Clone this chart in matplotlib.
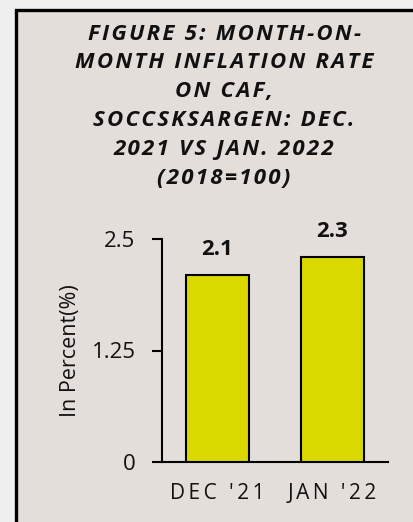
import matplotlib
matplotlib.use("Agg")
import matplotlib.pyplot as plt
from matplotlib.patches import Rectangle

plt.rcParams['font.family'] = ['Open Sans', 'DejaVu Sans']

# data
categories = ["DEC '21", "JAN '22"]
values = [2.1, 2.3]
value_labels = ["2.1", "2.3"]
yticks = [0, 1.25, 2.5]
ytick_labels = ["0", "1.25", "2.5"]
title_lines = ["FIGURE 5: MONTH-ON-", "MONTH INFLATION RATE", "ON CAF,",
               "SOCCSKSARGEN: DEC.", "2021 VS JAN. 2022", "(2018=100)"]

BG = '#e4dedb'
BAR = '#d9d900'
INK = '#111111'
TS = '\u2009'  # thin space, imitates letter spacing
HS = '\u200a'  # hair space, tighter letter spacing for the title


def spaced(s, sep=TS):
    return sep.join(s)


W, H = 413, 522
fig = plt.figure(figsize=(W / 100, H / 100), dpi=100)
fig.patch.set_facecolor('#f0f0f0')

# framed panel (right and bottom edges run off the image)
fig.patches.append(Rectangle((15.5 / W, -0.05), 1.1, 1 - 9.5 / H + 0.05,
                             transform=fig.transFigure, facecolor=BG,
                             edgecolor='black', linewidth=2.4, zorder=-5))

# title
y0 = 34
for i, line in enumerate(title_lines):
    fig.text(224 / W, 1 - (y0 + i * 28.8) / H, spaced(line, HS), ha='center', va='center',
             fontsize=16, fontweight='bold', fontstyle='italic', color=INK)

ax = fig.add_axes([162 / W, 1 - 462 / H, 226 / W, 223 / H])
ax.set_facecolor('none')
x = range(len(categories))
ax.bar(x, values, width=0.55, color=BAR, edgecolor='black', linewidth=1.5, zorder=3)
for xi, v, lab in zip(x, values, value_labels):
    ax.text(xi, v + 0.22, lab, ha='center', va='baseline', fontsize=16,
            fontweight='bold', color=INK)

ax.set_xlim(-0.483, 1.483)
ax.set_ylim(0, 2.5)
ax.set_yticks(yticks)
ax.set_yticklabels(ytick_labels, fontsize=16, color=INK)
ax.set_xticks(list(x))
ax.set_xticklabels([spaced(c) for c in categories], fontsize=15, color=INK)
ax.tick_params(axis='y', length=7, width=1.5, direction='out', pad=12)
ax.tick_params(axis='x', length=0, pad=15)
for s in ['top', 'right']:
    ax.spines[s].set_visible(False)
for s in ['left', 'bottom']:
    ax.spines[s].set_linewidth(1.5)
ax.set_ylabel('In Percent(%)', fontsize=15.5, color=INK)
ax.yaxis.set_label_coords((81 - 162) / 226, 0.5)

fig.savefig('out.png', dpi=100, facecolor=fig.get_facecolor())
